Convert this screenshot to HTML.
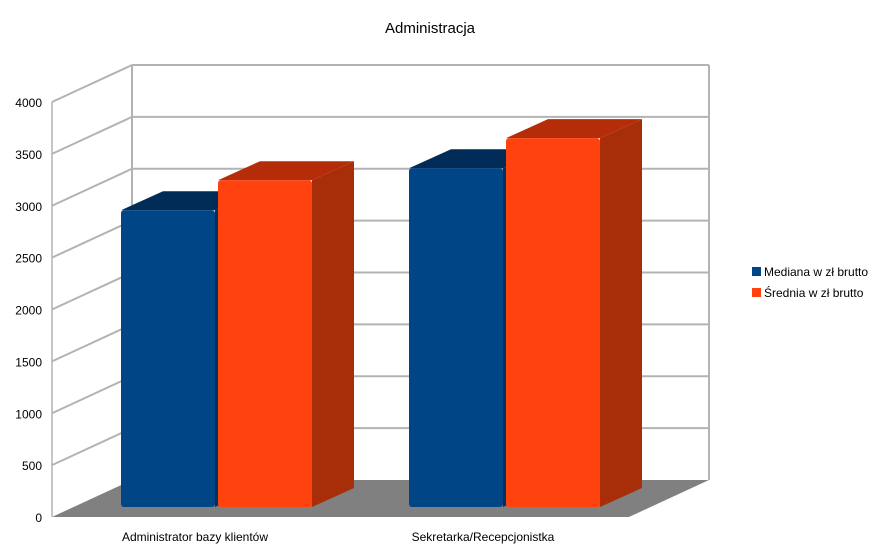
<!DOCTYPE html>
<html><head><meta charset="utf-8">
<style>
html,body{margin:0;padding:0;background:#fff;}
svg{display:block;font-family:"Liberation Sans",sans-serif;}
</style></head>
<body>
<svg id="chart" width="874" height="554" viewBox="0 0 874 554" xmlns="http://www.w3.org/2000/svg">
<text x="430" y="33" font-size="15" text-anchor="middle" fill="#000">Administracja</text>
<g id="walls"></g>
<g id="bars"></g>
<g id="labels"></g>
<g>
  <rect x="752" y="267" width="9" height="9" fill="#004586"/>
  <text x="764" y="276" font-size="12">Mediana w zł brutto</text>
  <rect x="752" y="288" width="9" height="9" fill="#ff420e"/>
  <text x="764" y="297" font-size="12">Średnia w zł brutto</text>
</g>
</svg>
<script>
const categories = ["Administrator bazy klientów", "Sekretarka/Recepcjonistka"];
const mediana = [2860, 3265];
const srednia = [3150, 3555];
const yTicks = [0, 500, 1000, 1500, 2000, 2500, 3000, 3500, 4000];
const yMax = 4000;

const NS = "http://www.w3.org/2000/svg";
const frontY0 = 517, pxPer = 415 / 4000;
const depthDx = 80, depthDy = -37;
const axisX = 52, wallRight = 709;
function yFront(v){ return frontY0 - v * pxPer; }
function mk(tag, attrs, parent){ const e = document.createElementNS(NS, tag); for (const k in attrs) e.setAttribute(k, attrs[k]); parent.appendChild(e); return e; }

const walls = document.getElementById("walls");
// floor
const floor = mk("polygon", {points:`${axisX},${frontY0} ${axisX+depthDx},${frontY0+depthDy} ${wallRight},${frontY0+depthDy} ${wallRight-depthDx},${frontY0}`, fill:"#808080"}, walls);


// back wall verticals
const bl = mk("line", {x1:axisX+depthDx, y1:yFront(0)+depthDy, x2:axisX+depthDx, y2:yFront(yMax)+depthDy, stroke:"#b3b3b3", "stroke-width":2}, walls);


const br = mk("line", {x1:wallRight, y1:yFront(0)+depthDy, x2:wallRight, y2:yFront(yMax)+depthDy, stroke:"#b3b3b3", "stroke-width":2}, walls);


const fl = mk("line", {x1:axisX, y1:yFront(0), x2:axisX, y2:yFront(yMax), stroke:"#b3b3b3", "stroke-width":1.5}, walls);


yTicks.forEach(t => {
  const y = yFront(t);
  if (t > 0) {
    const g1 = mk("line", {x1:axisX, y1:y, x2:axisX+depthDx, y2:y+depthDy, stroke:"#b3b3b3", "stroke-width":2}, walls);
    
    
    const g2 = mk("line", {x1:axisX+depthDx, y1:y+depthDy, x2:wallRight, y2:y+depthDy, stroke:"#b3b3b3", "stroke-width":2}, walls);
    
    
  }
  const tl = mk("text", {x:42, y:y+5, "font-size":12, "text-anchor":"end", fill:"#000"}, walls);
  tl.textContent = t;
  
  
});

// bars
const bars = document.getElementById("bars");
const barBase = 507, bdx = 42, bdy = -19, barW = 94;
const groupStart = [121, 409];
const series = [
  {vals: mediana, front:"#004586", top:"#002c57", side:"#00325f", name:"mediana", off:0},
  {vals: srednia, front:"#ff420e", top:"#b52d08", side:"#a82e0a", name:"srednia", off:97}
];
categories.forEach((c, i) => {
  series.forEach(s => {
    const x = groupStart[i] + s.off;
    const top = barBase - s.vals[i] * pxPer;
    const side = mk("polygon", {points:`${x+barW},${barBase} ${x+barW+bdx},${barBase+bdy} ${x+barW+bdx},${top+bdy} ${x+barW},${top}`, fill:s.side}, bars);
    
    
    const tp = mk("polygon", {points:`${x},${top} ${x+bdx},${top+bdy} ${x+barW+bdx},${top+bdy} ${x+barW},${top}`, fill:s.top}, bars);
    
    
    const fr = mk("rect", {x:x, y:top, width:barW, height:barBase-top, rx:3, fill:s.front}, bars);
    
    
  });
});

// category labels
const labels = document.getElementById("labels");
const labelX = [195, 483];
categories.forEach((c, i) => {
  const t = mk("text", {x:labelX[i], y:541, "font-size":12, "text-anchor":"middle", fill:"#000"}, labels);
  t.textContent = c;
  
  
});
</script>
</body></html>
